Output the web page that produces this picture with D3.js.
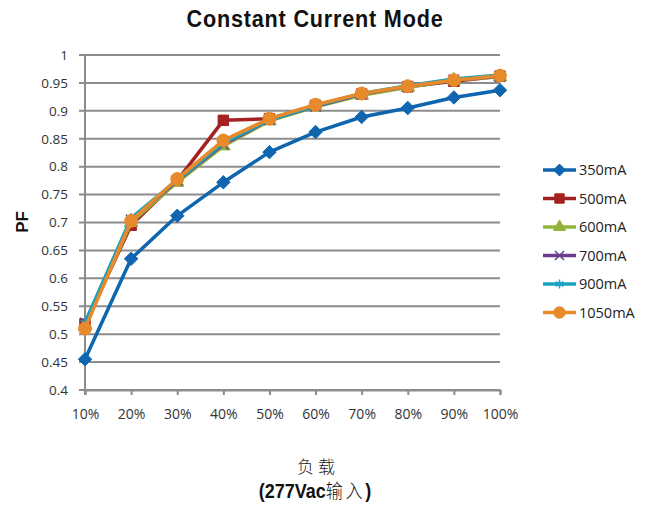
<!DOCTYPE html>
<html>
<head>
<meta charset="utf-8">
<script src="https://cdn.jsdelivr.net/npm/d3@7"></script>
<style>
  body { margin: 0; background: #fff; }
  svg { font-family: "Open Sans", sans-serif; }
</style>
</head>
<body>
<svg id="chart" width="648" height="507"></svg>
<script>
// chart data
const loads = ["10%", "20%", "30%", "40%", "50%", "60%", "70%", "80%", "90%", "100%"];
const pf350 = [0.455, 0.635, 0.712, 0.772, 0.826, 0.862, 0.889, 0.905, 0.924, 0.937];
const pf500 = [0.518, 0.695, 0.775, 0.883, 0.886, 0.910, 0.930, 0.943, 0.953, 0.962];
const pf600 = [0.515, 0.700, 0.772, 0.837, 0.882, 0.907, 0.928, 0.942, 0.955, 0.961];
const pf700 = [0.520, 0.705, 0.775, 0.840, 0.884, 0.908, 0.930, 0.944, 0.956, 0.962];
const pf900 = [0.520, 0.708, 0.776, 0.842, 0.884, 0.909, 0.931, 0.945, 0.957, 0.964];
const pf1050 = [0.510, 0.703, 0.778, 0.847, 0.886, 0.911, 0.931, 0.944, 0.955, 0.963];
const yTicks = [0.4, 0.45, 0.5, 0.55, 0.6, 0.65, 0.7, 0.75, 0.8, 0.85, 0.9, 0.95, 1];

// square turned 45 degrees, like the spreadsheet diamond
const diamond = {
    draw(ctx, size) {
        const r = Math.sqrt(size / 2);
        ctx.moveTo(0, -r);
        ctx.lineTo(r, 0);
        ctx.lineTo(0, r);
        ctx.lineTo(-r, 0);
        ctx.closePath();
    }
};

const series = [
    { name: "350mA", values: pf350, color: "#0f65ae", symbol: diamond, size: 90 },
    { name: "500mA", values: pf500, color: "#a32122", symbol: d3.symbolSquare, size: 110 },
    { name: "600mA", values: pf600, color: "#93b33d", symbol: d3.symbolTriangle, size: 80 },
    { name: "700mA", values: pf700, color: "#6a3d8d", symbol: d3.symbolX, size: 70 },
    { name: "900mA", values: pf900, color: "#1aa3bf", symbol: d3.symbolAsterisk, size: 70 },
    { name: "1050mA", values: pf1050, color: "#e78a2b", symbol: d3.symbolCircle, size: 130 }
];

const svg = d3.select("#chart");
const margin = { left: 85, right: 148, top: 55, bottom: 117 };
const width = 648 - margin.left - margin.right;
const height = 507 - margin.top - margin.bottom;

const x = d3.scalePoint().domain(loads).range([0, width]);
const y = d3.scaleLinear().domain([0.4, 1]).range([height, 0]);

const g = svg.append("g").attr("transform", `translate(${margin.left},${margin.top})`);

// horizontal grid lines
g.selectAll("line.grid")
    .data(yTicks)
    .join("line")
    .attr("class", "grid")
    .attr("x1", -6)
    .attr("x2", width)
    .attr("y1", d => y(d))
    .attr("y2", d => y(d))
    .attr("stroke", "#8c8c8c")
    .attr("stroke-width", 2);

// y axis labels
const yAxis = g.append("g")
    .call(d3.axisLeft(y).tickValues(yTicks).tickFormat(d => d3.format("")(+d.toFixed(2))).tickSize(0).tickPadding(17));
yAxis.select(".domain").remove();
yAxis.selectAll(".tick text")
    .style("font-family", "'Open Sans', sans-serif")
    .style("font-size", "13.5px")
    .style("fill", "#333");

// x axis
const xAxis = g.append("g")
    .attr("transform", `translate(0,${height})`)
    .call(d3.axisBottom(x).tickSize(5).tickPadding(14));
xAxis.select(".domain").attr("stroke", "#8c8c8c").attr("stroke-width", 2);
xAxis.selectAll(".tick line").attr("stroke", "#8c8c8c").attr("stroke-width", 2);
xAxis.selectAll(".tick text")
    .style("font-family", "'Open Sans', sans-serif")
    .style("font-size", "14px")
    .style("fill", "#333");

// vertical axis line
g.append("line")
    .attr("x1", 0).attr("x2", 0)
    .attr("y1", 0).attr("y2", height + 5)
    .attr("stroke", "#8c8c8c")
    .attr("stroke-width", 2);

// lines and markers
const line = d3.line()
    .x((d, i) => x(loads[i]))
    .y(d => y(d));

series.forEach(s => {
    g.append("path")
        .attr("d", line(s.values))
        .attr("fill", "none")
        .attr("stroke", s.color)
        .attr("stroke-width", 3.5)
        .attr("stroke-linejoin", "round");

    const open = s.symbol === d3.symbolX || s.symbol === d3.symbolAsterisk;
    g.selectAll(null)
        .data(s.values)
        .join("path")
        .attr("transform", (d, i) => `translate(${x(loads[i])},${y(d)})`)
        .attr("d", d3.symbol(s.symbol, s.size))
        .attr("fill", open ? "none" : s.color)
        .attr("stroke", s.color)
        .attr("stroke-width", open ? 1.5 : 1);
});

// legend
const legend = svg.append("g").attr("transform", "translate(543,170)");
series.forEach((s, i) => {
    const row = legend.append("g").attr("transform", `translate(0,${i * 28.5})`);
    row.append("line")
        .attr("x1", 0).attr("x2", 33)
        .attr("stroke", s.color)
        .attr("stroke-width", 3.5);
    const open = s.symbol === d3.symbolX || s.symbol === d3.symbolAsterisk;
    row.append("path")
        .attr("transform", "translate(16.5,0)")
        .attr("d", d3.symbol(s.symbol, s.size * 0.8))
        .attr("fill", open ? "none" : s.color)
        .attr("stroke", s.color)
        .attr("stroke-width", open ? 1.5 : 1);
    row.append("text")
        .attr("x", 36)
        .attr("dy", "0.36em")
        .style("font-size", "14.5px")
        .style("fill", "#222")
        .text(s.name);
});

// title (squeezed a little, the original face is condensed)
svg.append("text")
    .attr("transform", "translate(315,27) scale(0.9,1)")
    .attr("text-anchor", "middle")
    .style("font-family", "'Liberation Sans', sans-serif")
    .style("font-size", "24px")
    .style("font-weight", "bold")
    .style("letter-spacing", "0.9px")
    .style("fill", "#111")
    .text("Constant Current Mode");

// y axis label
svg.append("text")
    .attr("transform", "translate(28,222) rotate(-90)")
    .attr("text-anchor", "middle")
    .style("font-family", "'Liberation Sans', sans-serif")
    .style("font-size", "17px")
    .style("font-weight", "bold")
    .style("fill", "#111")
    .text("PF");

// x axis label
svg.append("text")
    .attr("x", 318)
    .attr("y", 473)
    .attr("text-anchor", "middle")
    .style("font-family", "'Noto Sans CJK SC', sans-serif")
    .style("font-size", "17px")
    .style("font-weight", "300")
    .style("letter-spacing", "4px")
    .style("fill", "#222")
    .text("负载");

const sub = svg.append("text")
    .attr("transform", "translate(315,498) scale(0.9,1)")
    .attr("text-anchor", "middle")
    .style("font-family", "'Liberation Sans', sans-serif")
    .style("font-size", "20px")
    .style("fill", "#111");
sub.append("tspan").style("font-weight", "bold").text("(277Vac");
sub.append("tspan").style("font-family", "'Noto Sans CJK SC', sans-serif").style("font-weight", "300").style("font-size", "19px").style("letter-spacing", "3px").text("输入");
sub.append("tspan").style("font-weight", "bold").text(")");
</script>
</body>
</html>
